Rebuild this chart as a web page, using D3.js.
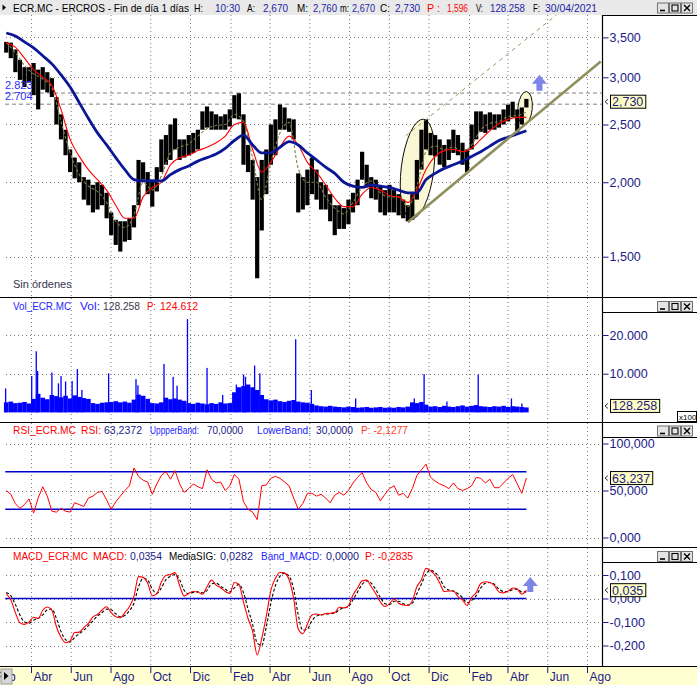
<!DOCTYPE html>
<html><head><meta charset="utf-8">
<script src="https://cdn.jsdelivr.net/npm/d3@7"></script>
<style>
body{margin:0;background:#fff;}
svg{display:block;font-family:"Liberation Sans",Arial,sans-serif;}
</style></head><body>
<svg id="c" width="697" height="685"></svg>
<script>
// ---------------- DATA ----------------
const firstWeekDate = "2019-02-22";   // weekly samples, 7 days apart
const monthNames = ["Ene","Feb","Mar","Abr","May","Jun","Jul","Ago","Sep","Oct","Nov","Dic"];

const priceHigh = [
3.44,3.43,3.34,3.21,3.12,3.12,3.17,3.09,3.12,3.06,
2.99,2.78,2.60,2.45,2.27,2.20,2.16,2.04,2.02,1.98,
2.00,1.98,1.92,1.78,1.73,1.72,1.72,1.74,1.83,2.18,
2.16,2.08,2.02,2.12,2.36,2.40,2.50,2.56,2.36,2.36,
2.40,2.42,2.45,2.63,2.68,2.63,2.60,2.58,2.60,2.65,
2.80,2.82,2.60,2.31,2.18,2.04,2.18,2.27,2.50,2.55,
2.70,2.67,2.56,2.55,2.07,2.04,2.10,2.20,2.10,2.00,
1.98,1.91,1.83,1.83,1.81,1.87,1.92,2.02,2.25,2.14,
2.04,2.02,1.97,1.94,1.98,1.94,1.91,1.87,1.83,1.91,
2.18,2.45,2.55,2.42,2.40,2.36,2.31,2.36,2.45,2.40,
2.33,2.27,2.50,2.63,2.63,2.60,2.62,2.60,2.60,2.65,
2.70,2.73,2.65,2.67,2.76];
const priceLow = [
3.30,3.23,3.06,2.97,2.89,2.94,2.80,2.65,2.86,2.83,
2.78,2.50,2.36,2.22,2.08,2.03,2.00,1.87,1.83,1.78,
1.80,1.83,1.74,1.63,1.57,1.53,1.59,1.60,1.68,1.83,
2.02,1.91,1.82,1.93,2.08,2.14,2.18,2.27,2.18,2.20,
2.22,2.24,2.27,2.45,2.47,2.45,2.45,2.45,2.45,2.48,
2.56,2.55,2.14,2.08,1.87,1.38,1.66,1.91,2.14,2.22,
2.45,2.45,2.43,2.36,1.78,1.80,1.83,1.91,1.87,1.80,
1.80,1.72,1.63,1.67,1.67,1.70,1.78,1.83,2.02,1.96,
1.88,1.87,1.78,1.76,1.78,1.78,1.76,1.74,1.72,1.73,
1.87,2.10,2.27,2.22,2.21,2.14,2.12,2.18,2.24,2.22,
2.14,2.08,2.27,2.36,2.43,2.42,2.45,2.45,2.47,2.50,
2.53,2.57,2.43,2.50,2.67];

// moving averages, sampled every two weeks
const maBlue = [
3.56,3.52,3.44,3.36,3.26,3.16,3.03,2.89,2.72,2.56,
2.42,2.31,2.20,2.10,2.02,2.01,2.01,2.01,2.06,2.10,
2.13,2.17,2.20,2.23,2.28,2.35,2.40,2.31,2.24,2.24,
2.29,2.34,2.31,2.24,2.18,2.12,2.07,2.00,1.97,1.96,
1.98,1.97,1.96,1.94,1.92,1.92,2.02,2.07,2.11,2.14,
2.17,2.21,2.25,2.30,2.35,2.38,2.41,2.44];
const maRed = [
3.43,3.37,3.23,3.09,3.00,2.91,2.65,2.36,2.21,2.10,
2.02,1.94,1.83,1.74,1.74,1.89,1.96,2.00,2.14,2.20,
2.22,2.26,2.29,2.33,2.39,2.50,2.52,2.27,2.08,2.16,
2.29,2.39,2.31,2.16,2.08,1.98,1.88,1.82,1.82,1.91,
1.96,1.94,1.90,1.89,1.85,1.94,2.10,2.21,2.26,2.27,
2.25,2.28,2.36,2.44,2.51,2.55,2.57,2.57];
const maOlive = [
3.43,3.30,3.14,3.04,2.98,2.88,2.53,2.24,2.06,1.97,
1.93,1.85,1.72,1.68,1.76,2.00,1.94,2.05,2.24,2.29,
2.32,2.39,2.46,2.49,2.50,2.60,2.53,2.20,1.87,2.16,
2.42,2.52,2.11,2.00,2.00,1.89,1.81,1.77,1.85,1.96,
2.01,1.92,1.89,1.89,1.82,1.97,2.25,2.30,2.27,2.29,
2.25,2.31,2.45,2.51,2.53,2.58,2.59,2.62];

const priceRefLines = [2.823, 2.704];
const trendSolid = [["2020-10-30",1.714],["2021-08-22",3.19]];
const trendDashed = [["2020-10-27",2.393],["2021-06-18",3.84]];
const ellipses = [
  {from:"2020-10-20", to:"2020-12-09", hi:2.555, lo:1.736, tilt:7},
  {from:"2021-04-17", to:"2021-05-09", hi:2.840, lo:2.497, tilt:5}];

// volume (x100), weekly typical level + single-day spikes
const volBase = [
2600,2800,2400,2500,2700,2300,3500,4800,3800,3400,
4500,4200,3900,4300,3600,4400,4000,3700,3500,2400,
2200,2500,2600,2700,2900,2600,2800,2500,3300,4600,
4300,3500,2400,2300,2600,3800,3400,3600,3300,3000,
2400,2200,2500,2300,2100,2400,2200,2600,2300,2400,
5200,6500,6800,7200,6500,5800,4500,3400,3100,3300,
2900,2700,3000,3200,2800,2600,2500,2200,1800,1600,
1500,1700,1500,1400,1300,1500,1400,1200,1300,1400,
1200,1300,1400,1200,1300,1200,1400,1300,1500,2600,
2400,2700,2000,1500,1600,1400,1700,1500,1400,1600,
1800,1500,1700,1900,1600,1500,1400,1600,1500,1700,
1400,1600,1500,1400,1283];
const volSpikes = [
["2019-02-21",6200],["2019-04-02",9400],["2019-04-09",15800],["2019-04-11",10700],
["2019-05-03",10300],["2019-05-13",7500],["2019-05-17",9400],["2019-05-24",8000],
["2019-06-03",8100],["2019-06-11",11200],["2019-06-18",5800],["2019-07-29",10100],
["2019-09-09",8600],["2019-09-12",7000],["2019-10-22",12500],["2019-11-05",9200],
["2019-11-11",6900],["2019-11-27",24100],["2019-12-27",11500],["2020-01-20",4500],
["2020-02-10",7200],["2020-02-21",9800],["2020-02-24",9200],["2020-03-09",12100],
["2020-03-17",10100],["2020-05-11",18900],["2020-06-04",5800],["2020-08-11",3600],
["2020-11-09",3600],["2020-11-24",9900],["2020-12-29",2800],["2021-02-15",9800],
["2021-04-07",3600],["2021-04-23",2300]];

const rsi = [
50,46,36,31,35,41,26,42,54,44,
28,27,31,28,27,37,35,33,42,44,
48,49,40,30,38,44,50,55,74,65,
61,59,46,57,66,70,62,71,57,48,
52,57,54,52,72,62,58,59,50,55,
67,62,38,30,27,19,55,56,63,65,
63,59,55,42,30,36,47,47,44,46,
42,37,45,48,45,50,58,64,69,58,
51,48,39,46,52,55,45,47,42,52,
66,72,78,64,60,57,55,52,58,52,
50,52,55,64,63,58,62,53,53,58,
63,67,57,47,63.24];
const rsiBands = [70, 30];

const macd = [
0.020,-0.005,-0.060,-0.103,-0.110,-0.100,-0.080,-0.085,-0.050,-0.036,
-0.050,-0.120,-0.165,-0.188,-0.180,-0.145,-0.143,-0.124,-0.106,-0.078,
-0.068,-0.049,-0.035,-0.060,-0.078,-0.082,-0.060,-0.035,0.010,0.093,
0.090,0.065,0.012,0.020,0.070,0.098,0.102,0.110,0.055,0.010,
0.022,0.030,0.028,0.018,0.050,0.078,0.057,0.046,0.030,0.022,
0.068,0.060,-0.015,-0.085,-0.140,-0.240,-0.170,-0.075,0.035,0.086,
0.112,0.108,0.080,0.000,-0.130,-0.150,-0.110,-0.070,-0.066,-0.070,
-0.064,-0.063,-0.060,-0.037,-0.040,-0.030,0.015,0.045,0.075,0.078,
0.050,0.020,-0.015,-0.034,-0.022,-0.002,-0.020,-0.028,-0.030,-0.010,
0.050,0.080,0.128,0.118,0.100,0.066,0.030,0.032,0.032,0.008,
-0.006,-0.030,0.005,0.025,0.064,0.071,0.068,0.055,0.028,0.024,
0.032,0.045,0.040,0.018,0.0354];
const macdSignal = [
0.025,0.012,-0.025,-0.070,-0.100,-0.105,-0.092,-0.085,-0.070,-0.048,
-0.045,-0.085,-0.140,-0.175,-0.185,-0.165,-0.150,-0.135,-0.115,-0.095,
-0.075,-0.060,-0.045,-0.048,-0.065,-0.078,-0.072,-0.052,-0.020,0.050,
0.085,0.078,0.040,0.022,0.045,0.080,0.095,0.102,0.080,0.035,
0.020,0.026,0.028,0.024,0.035,0.062,0.065,0.052,0.040,0.028,
0.045,0.060,0.025,-0.045,-0.110,-0.190,-0.200,-0.120,-0.020,0.055,
0.095,0.108,0.095,0.040,-0.070,-0.135,-0.130,-0.095,-0.075,-0.070,
-0.067,-0.064,-0.062,-0.048,-0.040,-0.035,-0.005,0.028,0.060,0.075,
0.065,0.038,0.005,-0.022,-0.026,-0.012,-0.012,-0.022,-0.028,-0.020,
0.020,0.062,0.105,0.120,0.110,0.085,0.050,0.036,0.032,0.020,
0.004,-0.018,-0.008,0.012,0.045,0.065,0.068,0.060,0.040,0.030,
0.030,0.038,0.040,0.028,0.0282];
const macdBand = 0;

const priceTicks = [1.5,2,2.5,3,3.5];
const volTicks = [10000,20000];
const rsiTicks = [0,50,100];
const macdTicks = [-0.2,-0.1,0,0.1];
const lastValues = {price:2.730, vol:1282.58, volLabel:"128.258", rsi:63.237, macd:0.0354};

// ---------------- CHART ----------------
const parse = d3.timeParse("%Y-%m-%d");
const start = parse(firstWeekDate);
const weeks = d3.range(priceHigh.length).map(i => d3.timeDay.offset(start, 7*i));
const fortnights = d3.range(maBlue.length).map(i => d3.timeDay.offset(start, 14*i));

const PR = 602, W = 697;
const P = {
  main:{top:15,bottom:297,axisTop:15},
  vol:{top:298,bottom:422,axisTop:312},
  rsi:{top:423,bottom:547,axisTop:437},
  macd:{top:548,bottom:667,axisTop:562}
};
const x = d3.scaleTime().domain([parse("2019-04-01"), parse("2021-08-01")]).range([31, 587]);
const yP = d3.scaleLog().domain([1.5,3.5]).range([256.7,37.4]);
const yV = d3.scaleLinear().domain([0,20000]).range([412.4,335]);
const yR = d3.scaleLinear().domain([0,100]).range([537.5,443.5]);
const yM = d3.scaleLinear().domain([-0.2,0.1]).range([645.5,575]);

const loc = d3.formatLocale({decimal:",",thousands:".",grouping:[3],currency:["","€"],minus:"-"});
const f3 = loc.format(".3f");
const fInt = loc.format(",d");

const svg = d3.select("#c");
const defs = svg.append("defs");
Object.entries(P).forEach(([k,p]) => {
  defs.append("clipPath").attr("id","clip-"+k).append("rect")
    .attr("x",0).attr("y",p.top).attr("width",PR).attr("height",p.bottom-p.top);
});

svg.append("rect").attr("width",W).attr("height",685).attr("fill","#fff");
svg.append("rect").attr("x",0).attr("y",0).attr("width",W).attr("height",15).attr("fill","#e9e9e9");
svg.append("path").attr("d","M2.5,4.5 L6,7.5 L2.5,10.5 Z").attr("fill","#000");

const monthTicks = d3.timeMonth.range(parse("2019-02-01"), parse("2021-09-01")).filter(d => d.getMonth() % 2 === 1);
const NAVY = "#1a1a86", BLUE = "#2424ff", RED = "#ff0000", VAL = "#1f1fa8";

function grid(key, yScale, ticks){
  const p = P[key];
  const g = svg.append("g").attr("clip-path",`url(#clip-${key})`);
  g.selectAll("line.v").data(monthTicks).join("line")
    .attr("x1",d=>x(d)+0.5).attr("x2",d=>x(d)+0.5).attr("y1",p.top).attr("y2",p.bottom)
    .attr("stroke","#7a7a7a").attr("stroke-dasharray","1,3");
  g.selectAll("line.h").data(ticks).join("line")
    .attr("x1",6).attr("x2",PR).attr("y1",d=>Math.round(yScale(d))+0.5).attr("y2",d=>Math.round(yScale(d))+0.5)
    .attr("stroke","#7a7a7a").attr("stroke-dasharray","1,3");
  return g;
}

// ---------- main panel ----------
const gM = grid("main", yP, priceTicks);
gM.selectAll("line.ref").data(priceRefLines).join("line")
  .attr("x1",5).attr("x2",PR).attr("y1",d=>yP(d)).attr("y2",d=>yP(d))
  .attr("stroke","#808080").attr("stroke-dasharray","4,3");
ellipses.forEach(e => {
  const x0 = x(parse(e.from)), x1 = x(parse(e.to)), y0 = yP(e.hi), y1 = yP(e.lo);
  const cx=(x0+x1)/2, cy=(y0+y1)/2;
  gM.append("ellipse").attr("cx",cx).attr("cy",cy).attr("rx",(x1-x0)/2).attr("ry",(y1-y0)/2)
    .attr("transform",`rotate(${e.tilt},${cx},${cy})`)
    .attr("fill","#faf8d4").attr("stroke","#000").attr("stroke-width",0.9);
});
gM.selectAll("rect.bar").data(weeks).join("rect")
  .attr("x",d=>x(d)-2.1).attr("width",4.2)
  .attr("y",(d,i)=>yP(priceHigh[i])).attr("height",(d,i)=>Math.max(1,yP(priceLow[i])-yP(priceHigh[i])))
  .attr("fill","#000");
const maLine = arr => d3.line().x((d,i)=>x(d)).y((d,i)=>yP(arr[i])).curve(d3.curveMonotoneX)(fortnights);
gM.append("path").attr("d",maLine(maOlive)).attr("fill","none").attr("stroke","#7d7d45").attr("stroke-width",1.1).attr("stroke-dasharray","3,2");
gM.append("path").attr("d",maLine(maRed)).attr("fill","none").attr("stroke","#ff0000").attr("stroke-width",1.1);
gM.append("path").attr("d",maLine(maBlue)).attr("fill","none").attr("stroke","#0b1696").attr("stroke-width",2.8);
const tl = d3.line().x(d=>x(parse(d[0]))).y(d=>yP(d[1]));
gM.append("path").attr("d",tl(trendDashed)).attr("fill","none").attr("stroke","#9a9a62").attr("stroke-width",1).attr("stroke-dasharray","4,4");
gM.append("path").attr("d",tl(trendSolid)).attr("fill","none").attr("stroke","#8f8f5c").attr("stroke-width",2.6);
function arrow(g, cx, ty, by){
  g.append("path").attr("d",`M${cx},${ty} L${cx+7.5},${ty+9} L${cx+3},${ty+9} L${cx+3},${by} L${cx-3},${by} L${cx-3},${ty+9} L${cx-7.5},${ty+9} Z`)
   .attr("fill","#7d86e6");
}
arrow(svg, x(parse("2021-05-20")), yP(3.03), yP(2.847));
svg.selectAll("text.ref").data(priceRefLines).join("text")
  .attr("x",5).attr("y",d=>yP(d)-4).text(d=>d.toFixed(3))
  .attr("fill","#2b2bff").style("font-size","11px");
svg.append("text").attr("x",13).attr("y",288).text("Sin órdenes").attr("fill","#34344e").style("font-size","11px");

// ---------- volume ----------
const gV = grid("vol", yV, volTicks);
gV.selectAll("rect.vb").data(weeks).join("rect")
  .attr("x",d=>x(d)-2.3).attr("width",4.6)
  .attr("y",(d,i)=>yV(volBase[i])).attr("height",(d,i)=>yV(0)-yV(volBase[i])).attr("fill","#0000ff");
gV.selectAll("rect.vs").data(volSpikes).join("rect")
  .attr("x",d=>x(parse(d[0]))-0.6).attr("width",1.3)
  .attr("y",d=>yV(d[1])).attr("height",d=>yV(0)-yV(d[1])).attr("fill","#0000ff");

// ---------- RSI ----------
const gR = grid("rsi", yR, rsiTicks);
const firstD = weeks[0], lastD = weeks[weeks.length-1];
gR.selectAll("line.band").data(rsiBands).join("line")
  .attr("x1",x(firstD)-1).attr("x2",x(lastD)).attr("y1",d=>yR(d)).attr("y2",d=>yR(d))
  .attr("stroke","#0000cc").attr("stroke-width",1.6);
gR.append("path").attr("d",d3.line().x(d=>x(d)).y((d,i)=>yR(rsi[i]))(weeks))
  .attr("fill","none").attr("stroke","#ff0000").attr("stroke-width",1);

// ---------- MACD ----------
const gC = grid("macd", yM, macdTicks);
gC.append("line").attr("x1",x(firstD)-1).attr("x2",x(lastD)).attr("y1",yM(macdBand)).attr("y2",yM(macdBand))
  .attr("stroke","#0000cc").attr("stroke-width",1.3);
gC.append("path").attr("d",d3.line().x(d=>x(d)).y((d,i)=>yM(macdSignal[i])).curve(d3.curveMonotoneX)(weeks))
  .attr("fill","none").attr("stroke","#000").attr("stroke-width",1.1).attr("stroke-dasharray","3,2");
gC.append("path").attr("d",d3.line().x(d=>x(d)).y((d,i)=>yM(macd[i])).curve(d3.curveMonotoneX)(weeks))
  .attr("fill","none").attr("stroke","#ff0000").attr("stroke-width",1.1);
arrow(svg, x(parse("2021-05-06")), yM(0.0915), yM(0.0277));

// ---------- frames ----------
const frame = svg.append("g").attr("stroke","#000").attr("stroke-width",1.2);
[297.5,422.5,547.5,666.5].forEach(yy => frame.append("line").attr("x1",0).attr("x2",W).attr("y1",yy).attr("y2",yy));
frame.append("line").attr("x1",PR+0.5).attr("x2",PR+0.5).attr("y1",15).attr("y2",666.5);
Object.values(P).forEach(p => frame.append("line").attr("x1",PR).attr("x2",W).attr("y1",p.axisTop+0.5).attr("y2",p.axisTop+0.5));

// ---------- right axes ----------
function rightAxis(scale, ticks, fmt){
  const g = svg.append("g").attr("transform",`translate(${PR+0.5},0)`)
    .call(d3.axisRight(scale).tickValues(ticks).tickFormat(fmt).tickSize(6).tickPadding(1));
  g.select(".domain").remove();
  g.attr("font-family","Liberation Sans, Arial, sans-serif").attr("font-size",12.5);
  g.selectAll(".tick line").attr("stroke",NAVY);
  g.selectAll(".tick text").attr("fill",NAVY);
}
rightAxis(yP, priceTicks, f3);
rightAxis(yV, volTicks, fInt);
rightAxis(yR, rsiTicks, f3);
rightAxis(yM, macdTicks, f3);

function lastBox(yy, label){
  const g = svg.append("g");
  g.append("path").attr("d",`M608,${yy-2.5} L605,${yy} L608,${yy+2.5}`).attr("fill","none").attr("stroke","#000").attr("stroke-width",0.8);
  const t = g.append("text").attr("x",612).attr("y",yy).attr("dy","0.36em").text(label)
    .attr("fill",NAVY).style("font-size","12.5px");
  const w = t.node().getComputedTextLength();
  g.insert("rect","text").attr("x",610.5).attr("y",yy-6.5).attr("width",w+4).attr("height",13)
    .attr("fill","#ffffc4").attr("stroke","#000").attr("stroke-width",1);
}
lastBox(yP(lastValues.price), f3(lastValues.price));
lastBox(yV(lastValues.vol)-1.5, lastValues.volLabel);
lastBox(yR(lastValues.rsi), f3(lastValues.rsi));
lastBox(yM(lastValues.macd), f3(lastValues.macd));
svg.append("rect").attr("x",677.5).attr("y",411.5).attr("width",19).attr("height",10).attr("fill","#fff").attr("stroke","#000");
svg.append("text").attr("x",679).attr("y",419.5).text("x100").style("font-size","8px").attr("fill","#000");

// ---------- x axis ----------
svg.append("rect").attr("x",0).attr("y",667).attr("width",W).attr("height",18).attr("fill","#ffffd2");
const gx = svg.append("g").attr("transform","translate(0,667)")
  .call(d3.axisBottom(x).tickValues(monthTicks).tickSize(6).tickFormat(d=>monthNames[d.getMonth()]));
gx.select(".domain").remove();
gx.attr("font-family","Liberation Sans, Arial, sans-serif").attr("font-size",12);
gx.selectAll(".tick line").attr("stroke",NAVY);
gx.selectAll(".tick text").attr("fill",NAVY).attr("text-anchor","start").attr("x",2).attr("y",5);
svg.append("rect").attr("x",1).attr("y",669).attr("width",11).attr("height",15).attr("fill","#d6d6d6").attr("stroke","#9a9a9a");
svg.append("path").attr("d","M4,672 L8.5,676 L4,680 Z").attr("fill","#000");

// ---------- window buttons ----------
function buttons(ty){
  const g = svg.append("g");
  [657,669,681].forEach((bx,k) => {
    g.append("rect").attr("x",bx+0.5).attr("y",ty+0.5).attr("width",11).attr("height",10).attr("fill","#e4e4e4").attr("stroke","#707070");
    if(k===0) g.append("line").attr("x1",bx+3).attr("x2",bx+8).attr("y1",ty+8).attr("y2",ty+8).attr("stroke","#000").attr("stroke-width",1.6);
    if(k===1) g.append("rect").attr("x",bx+3).attr("y",ty+2.5).attr("width",6).attr("height",6).attr("fill","none").attr("stroke","#000").attr("stroke-width",1.1);
    if(k===2) g.append("path").attr("d",`M${bx+3},${ty+2.5} L${bx+9},${ty+8.5} M${bx+9},${ty+2.5} L${bx+3},${ty+8.5}`).attr("stroke","#000").attr("stroke-width",1.4);
  });
}
buttons(2.5); buttons(301); buttons(425.5); buttons(551);

// ---------- titles (x start, x end, text, colour) ----------
function title(yb, parts){
  const g = svg.append("g").style("font-size","10.4px");
  parts.forEach(p => g.append("text").attr("x",p[0]).attr("y",yb).text(p[2]).attr("fill",p[3])
    .attr("textLength",p[1]-p[0]).attr("lengthAdjust","spacingAndGlyphs"));
}
title(12, [[13,189,"ECR.MC - ERCROS - Fin de día 1 días","#000"],[194,203,"H:","#000"],[215,240,"10:30",VAL],
  [247,255,"A:","#000"],[263,288,"2,670",VAL],[297,308,"M:","#000"],[313,337,"2,760",VAL],[340,349,"m:","#000"],[352,375,"2,670",VAL],
  [380,390,"C:","#000"],[395,420,"2,730",VAL],[427,440,"P :",RED],[447,468,"1,596",RED],[476,483,"V:","#000"],[490,525,"128.258",VAL],
  [533,540,"F:","#000"],[545,597,"30/04/2021",VAL]]);
title(309.5, [[13,71,"Vol_ECR.MC",BLUE],[80,100,"Vol:",BLUE],[103,140,"128.258","#3a3a4a"],[147,156,"P:",RED],[160,198,"124.612",RED]]);
title(434, [[13,76,"RSI_ECR.MC",RED],[81,101,"RSI:",RED],[104,142,"63,2372",NAVY],[150,199,"UppperBand:",BLUE],[207,243,"70,0000",NAVY],
  [257,311,"LowerBand:",BLUE],[316,353,"30,0000",NAVY],[361,408,"P: -2,1277","#ff3c1c"]]);
title(559.5, [[13,88,"MACD_ECR.MC",RED],[93,127,"MACD:",RED],[130,162,"0,0354",NAVY],[169,216,"MediaSIG:","#000"],[220,253,"0,0282",NAVY],
  [261,322,"Band_MACD:",BLUE],[326,359,"0,0000",NAVY],[365,413,"P: -0,2835",RED]]);
</script></body></html>
